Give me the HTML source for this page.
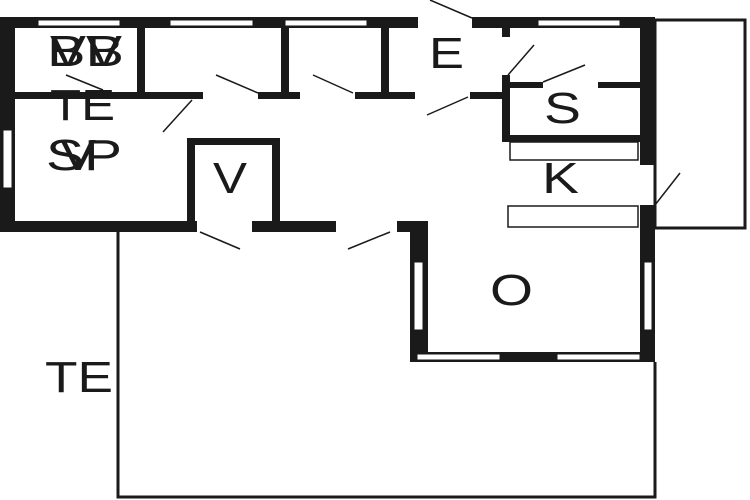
<!DOCTYPE html>
<html><head><style>html,body{margin:0;padding:0;background:#fff}svg{display:block}text{font-family:"Liberation Sans",sans-serif;font-size:44px;fill:#1a1a1a}</style></head>
<body>
<svg width="750" height="500" viewBox="0 0 750 500" xmlns="http://www.w3.org/2000/svg">
<rect width="750" height="500" fill="#fff"/>
<g fill="none" stroke="#1a1a1a" stroke-width="3">
<path d="M118 232 V497 H655 V362"/>
<rect x="655" y="20" width="90" height="208"/>
</g>
<g stroke="#1a1a1a" stroke-width="1.5" fill="#fff">
<rect x="510" y="142" width="128" height="18"/>
<rect x="508" y="206" width="130" height="21"/>
</g>
<g fill="#1a1a1a">
<rect x="0" y="17" width="418" height="11"/>
<rect x="472" y="17" width="183" height="11"/>
<rect x="0" y="17" width="15" height="215"/>
<rect x="0" y="221" width="197" height="11"/>
<rect x="252" y="221" width="84" height="11"/>
<rect x="397" y="221" width="31" height="11"/>
<rect x="410" y="221" width="18" height="141"/>
<rect x="410" y="352" width="245" height="10"/>
<rect x="640" y="17" width="15" height="148"/>
<rect x="640" y="205" width="15" height="157"/>
<rect x="137" y="28" width="8" height="70"/>
<rect x="281" y="28" width="8" height="70"/>
<rect x="381" y="28" width="8" height="70"/>
<rect x="15" y="92" width="188" height="7"/>
<rect x="258" y="92" width="42" height="7"/>
<rect x="355" y="92" width="60" height="7"/>
<rect x="470" y="92" width="40" height="7"/>
<rect x="502" y="28" width="8" height="9"/>
<rect x="502" y="75" width="8" height="67"/>
<rect x="510" y="82" width="33" height="6"/>
<rect x="598" y="82" width="42" height="6"/>
<rect x="510" y="135" width="130" height="7"/>
<rect x="187" y="140" width="8" height="82"/>
<rect x="187" y="138" width="93" height="7"/>
<rect x="272" y="138" width="8" height="84"/>
</g>
<g fill="#fff" stroke="#1a1a1a" stroke-width="1">
<rect x="38" y="20" width="82" height="6"/>
<rect x="170" y="20" width="83" height="6"/>
<rect x="285" y="20" width="82" height="6"/>
<rect x="538" y="20" width="82" height="6"/>
<rect x="3" y="130" width="9" height="58"/>
<rect x="414" y="262" width="9" height="68"/>
<rect x="644" y="262" width="8" height="68"/>
<rect x="417" y="354" width="83" height="6"/>
<rect x="557" y="354" width="83" height="6"/>
</g>
<g stroke="#1a1a1a" stroke-width="1.5">
<line x1="66" y1="75" x2="103" y2="90"/>
<line x1="216" y1="75" x2="258" y2="93"/>
<line x1="313" y1="75" x2="353" y2="93"/>
<line x1="163" y1="132" x2="192" y2="100"/>
<line x1="200" y1="232" x2="240" y2="249"/>
<line x1="348" y1="249" x2="390" y2="232"/>
<line x1="427" y1="115" x2="468" y2="97"/>
<line x1="430" y1="0" x2="472" y2="18"/>
<line x1="508" y1="75" x2="534" y2="45"/>
<line x1="543" y1="82" x2="585" y2="65"/>
<line x1="655" y1="205" x2="680" y2="173"/>
</g>
<text x="47" y="66" textLength="77" lengthAdjust="spacingAndGlyphs">BB</text>
<text x="50" y="66" textLength="72" lengthAdjust="spacingAndGlyphs">VV</text>
<text x="50" y="120" textLength="65" lengthAdjust="spacingAndGlyphs">TE</text>
<text x="46" y="170" textLength="76" lengthAdjust="spacingAndGlyphs">SP</text>
<text x="60" y="170" textLength="36" lengthAdjust="spacingAndGlyphs">V</text>
<text x="213" y="193" textLength="34" lengthAdjust="spacingAndGlyphs">V</text>
<text x="429" y="68" textLength="35" lengthAdjust="spacingAndGlyphs">E</text>
<text x="544" y="123" textLength="37" lengthAdjust="spacingAndGlyphs">S</text>
<text x="542" y="193" textLength="37" lengthAdjust="spacingAndGlyphs">K</text>
<text x="490" y="305" textLength="43" lengthAdjust="spacingAndGlyphs">O</text>
<text x="45" y="392" textLength="68" lengthAdjust="spacingAndGlyphs">TE</text>
</svg>
</body></html>
